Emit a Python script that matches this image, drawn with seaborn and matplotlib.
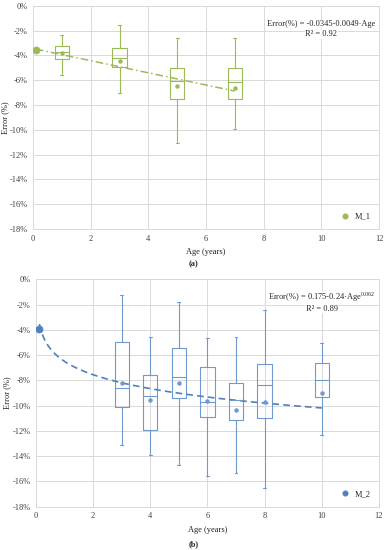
import numpy as np
import pandas as pd
import matplotlib
matplotlib.use("Agg")
import matplotlib.pyplot as plt
import seaborn as sns
from matplotlib.ticker import FuncFormatter, MultipleLocator

sns.set_theme(style="whitegrid")
plt.rcParams['font.family'] = ['Liberation Serif', 'DejaVu Serif']
plt.rcParams['mathtext.fontset'] = 'custom'
plt.rcParams['mathtext.rm'] = 'Liberation Serif'

# ---------------- data (Error in %) ----------------
# Panel (a) M_1
a_ages = [1, 3, 5, 7]
a_whislo = [-5.56, -7.0, -11.1, -9.97]
a_q1 = [-4.27, -4.92, -7.55, -7.55]
a_med = [-3.76, -4.24, -6.1, -6.15]
a_q3 = [-3.27, -3.44, -5.05, -5.05]
a_whishi = [-2.39, -1.58, -2.63, -2.63]
a_mean = [-3.84, -4.43, -6.5, -6.6]
a_point_age = [0.1]
a_point_err = [-3.6]
a_fit_intercept = -0.0345
a_fit_slope = -0.0049
a_fit_range = [0.1, 7.0]
a_eq = "Error(%) = -0.0345-0.0049·Age"
a_r2 = "R² = 0.92"

# Panel (b) M_2
b_ages = [3, 4, 5, 6, 7, 8, 10]
b_whislo = [-13.1, -13.94, -14.7, -15.55, -15.36, -16.5, -12.35]
b_q1 = [-10.08, -11.93, -9.4, -10.9, -11.17, -10.95, -9.29]
b_med = [-8.58, -9.24, -7.76, -9.74, -9.53, -8.37, -7.95]
b_q3 = [-5.0, -7.6, -5.41, -6.94, -8.23, -6.73, -6.65]
b_whishi = [-1.22, -4.54, -1.82, -4.67, -4.57, -2.46, -5.04]
b_mean = [-8.23, -9.55, -8.23, -9.6, -10.32, -9.69, -8.98]
b_point_age = [0.1]
b_point_err = [-3.9]
b_fit_a = 0.175
b_fit_b = -0.24
b_fit_c = 0.062
b_fit_range = [0.12, 10.0]
b_eq_base = "Error(%) = 0.175-0.24·Age"
b_eq_exp = "0.062"
b_r2 = "R² = 0.89"

green = "#9BBB59"
blue = "#4F81BD"
blue_box = "#6F9AD0"

fs = 6.0

fig = plt.figure(figsize=(3.87, 5.5), dpi=100)
ax1 = fig.add_axes([0.0853, 0.5836, 0.894, 0.406])
ax2 = fig.add_axes([0.093, 0.0787, 0.886, 0.4135])


def draw_boxes(ax, ages, lo, q1, med, q3, hi, mean, color):
    stats = []
    for i in range(len(ages)):
        stats.append(dict(whislo=lo[i], q1=q1[i], med=med[i], q3=q3[i],
                          whishi=hi[i], mean=mean[i], fliers=[]))
    ax.bxp(stats, positions=ages, widths=0.5, capwidths=0.1,
           showmeans=True, showfliers=False, manage_ticks=False,
           boxprops=dict(color=color, lw=0.8),
           whiskerprops=dict(color=color, lw=0.8),
           capprops=dict(color=color, lw=0.8),
           medianprops=dict(color=color, lw=0.8),
           meanprops=dict(marker='o', markerfacecolor=color,
                          markeredgecolor=color, markersize=2.2))


def style_axes(ax, label_x):
    ax.set_xlim(0, 12)
    ax.set_ylim(-18, 0)
    ax.xaxis.set_major_locator(MultipleLocator(2))
    ax.yaxis.set_major_locator(MultipleLocator(2))
    ax.yaxis.set_major_formatter(FuncFormatter(lambda v, p: f"{int(round(v))}%"))
    ax.grid(True, color="#D9D9D9", lw=0.7)
    for s in ax.spines.values():
        s.set_color("#D9D9D9")
        s.set_linewidth(0.7)
    ax.tick_params(axis='both', labelsize=fs, length=0, pad=4, colors="#404040")
    ax.set_ylabel("Error (%)", fontsize=fs, color="#202020")
    ax.yaxis.set_label_coords(label_x, 0.5)
    ax.set_axisbelow(True)


# ---- Panel (a)
style_axes(ax1, -0.068)
draw_boxes(ax1, a_ages, a_whislo, a_q1, a_med, a_q3, a_whishi, a_mean, green)
xa = np.linspace(a_fit_range[0], a_fit_range[1], 100)
fit_a = pd.DataFrame({"age": xa, "err": (a_fit_intercept + a_fit_slope * xa) * 100})
sns.lineplot(data=fit_a, x="age", y="err", ax=ax1, color=green, lw=1.1,
             linestyle=(0, (5, 2, 1, 2)))
pa = pd.DataFrame({"age": a_point_age, "err": a_point_err, "s": ["M_1"]})
sns.scatterplot(data=pa, x="age", y="err", hue="s", palette=[green], ax=ax1,
                s=26, edgecolor=green, linewidth=0.5, zorder=5)
ax1.legend(loc="lower right", frameon=False, fontsize=fs, handletextpad=0.1,
           markerscale=0.75, borderaxespad=0.6)
ax1.text(10.0, -1.5, a_eq, fontsize=fs, ha="center", va="center",
         bbox=dict(facecolor="white", edgecolor="none", pad=0.3))
ax1.text(10.0, -2.3, a_r2, fontsize=fs, ha="center", va="center",
         bbox=dict(facecolor="white", edgecolor="none", pad=0.3))
ax1.set_xlabel("Age (years)", fontsize=fs, labelpad=4, color="#202020")

# ---- Panel (b)
style_axes(ax2, -0.073)
draw_boxes(ax2, b_ages, b_whislo, b_q1, b_med, b_q3, b_whishi, b_mean, blue_box)
xb = np.linspace(b_fit_range[0], b_fit_range[1], 300)
fit_b = pd.DataFrame({"age": xb, "err": (b_fit_a + b_fit_b * xb ** b_fit_c) * 100})
sns.lineplot(data=fit_b, x="age", y="err", ax=ax2, color=blue, lw=1.2,
             linestyle=(0, (4, 2.5)))
pb = pd.DataFrame({"age": b_point_age, "err": b_point_err, "s": ["M_2"]})
sns.scatterplot(data=pb, x="age", y="err", hue="s", palette=[blue], ax=ax2,
                s=26, edgecolor=blue, linewidth=0.5, zorder=5)
ax2.legend(loc="lower right", frameon=False, fontsize=fs, handletextpad=0.1,
           markerscale=0.75, borderaxespad=0.6)
ax2.text(10.0, -1.45, b_eq_base + r"$^{\mathrm{" + b_eq_exp + "}}$", fontsize=fs,
         ha="center", va="center",
         bbox=dict(facecolor="white", edgecolor="none", pad=0.2))
ax2.text(10.0, -2.35, b_r2, fontsize=fs, ha="center", va="center",
         bbox=dict(facecolor="white", edgecolor="none", pad=0.2))
ax2.set_xlabel("Age (years)", fontsize=fs, labelpad=4, color="#202020")

fig.text(0.5, 1 - 264 / 550, "(a)", fontsize=fs, ha="center", va="center",
         fontweight="bold")
fig.text(0.5, 1 - 544 / 550, "(b)", fontsize=fs, ha="center", va="center",
         fontweight="bold")

fig.savefig("out.png", dpi=100)
